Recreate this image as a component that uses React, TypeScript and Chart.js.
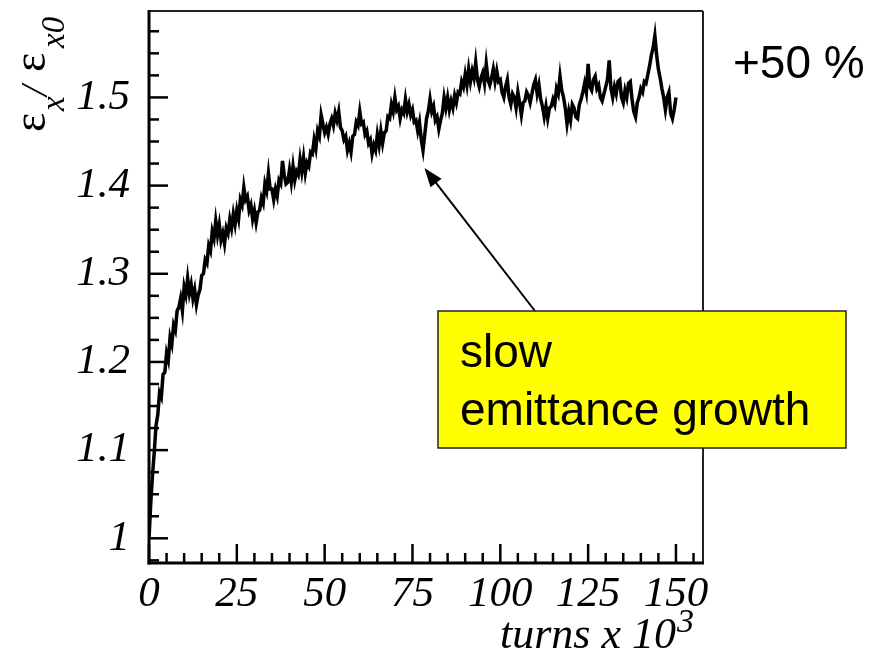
import React, { useEffect, useRef } from "react";
import { Chart, registerables } from "chart.js";

Chart.register(...registerables);

// emittance ratio eps_x / eps_x0, sampled every 0.5 x 10^3 turns (0 ... 150)
const emittanceRatio = [
  1.000, 1.040, 1.072, 1.098, 1.128, 1.140, 1.165, 1.160, 1.186, 1.188, 1.210, 1.202, 1.228, 1.220, 1.242, 1.236, 1.258, 1.262, 1.272, 1.258,
  1.285, 1.276, 1.295, 1.278, 1.288, 1.272, 1.282, 1.265, 1.276, 1.282, 1.298, 1.300, 1.316, 1.312, 1.332, 1.326, 1.348, 1.340, 1.360, 1.344,
  1.356, 1.338, 1.346, 1.334, 1.352, 1.346, 1.362, 1.352, 1.368, 1.356, 1.372, 1.362, 1.384, 1.378, 1.398, 1.384, 1.388, 1.372, 1.378, 1.362,
  1.372, 1.358, 1.370, 1.372, 1.386, 1.380, 1.402, 1.394, 1.414, 1.396, 1.396, 1.384, 1.396, 1.388, 1.406, 1.402, 1.428, 1.412, 1.402, 1.404,
  1.418, 1.404, 1.422, 1.406, 1.416, 1.412, 1.430, 1.416, 1.432, 1.414, 1.426, 1.422, 1.438, 1.436, 1.452, 1.442, 1.462, 1.456, 1.480, 1.470,
  1.460, 1.466, 1.458, 1.470, 1.476, 1.468, 1.482, 1.474, 1.484, 1.466, 1.462, 1.452, 1.456, 1.440, 1.448, 1.438, 1.456, 1.458, 1.472, 1.468,
  1.484, 1.470, 1.472, 1.458, 1.462, 1.448, 1.452, 1.436, 1.446, 1.440, 1.458, 1.446, 1.462, 1.448, 1.460, 1.462, 1.478, 1.476, 1.492, 1.484,
  1.500, 1.486, 1.490, 1.476, 1.486, 1.482, 1.498, 1.484, 1.492, 1.480, 1.486, 1.472, 1.474, 1.462, 1.472, 1.452, 1.440, 1.458, 1.476, 1.484,
  1.498, 1.484, 1.490, 1.474, 1.478, 1.464, 1.474, 1.482, 1.500, 1.488, 1.500, 1.486, 1.496, 1.488, 1.502, 1.494, 1.506, 1.504, 1.518, 1.512,
  1.526, 1.514, 1.532, 1.518, 1.530, 1.522, 1.540, 1.520, 1.512, 1.522, 1.528, 1.516, 1.538, 1.520, 1.514, 1.522, 1.532, 1.518, 1.530, 1.518,
  1.520, 1.506, 1.500, 1.512, 1.520, 1.500, 1.492, 1.504, 1.500, 1.488, 1.506, 1.494, 1.480, 1.494, 1.496, 1.506, 1.502, 1.494, 1.504, 1.514,
  1.520, 1.504, 1.514, 1.498, 1.490, 1.478, 1.490, 1.476, 1.488, 1.490, 1.498, 1.492, 1.510, 1.504, 1.524, 1.508, 1.500, 1.488, 1.470, 1.484,
  1.474, 1.492, 1.488, 1.478, 1.476, 1.492, 1.498, 1.506, 1.516, 1.506, 1.538, 1.512, 1.508, 1.520, 1.524, 1.510, 1.514, 1.500, 1.496, 1.504,
  1.512, 1.520, 1.542, 1.510, 1.500, 1.512, 1.504, 1.518, 1.520, 1.500, 1.494, 1.508, 1.500, 1.516, 1.518, 1.498, 1.484, 1.478, 1.494, 1.500,
  1.510, 1.506, 1.518, 1.516, 1.526, 1.536, 1.548, 1.556, 1.570, 1.548, 1.532, 1.522, 1.510, 1.500, 1.486, 1.500, 1.506, 1.482, 1.476, 1.486,
  1.500,
];
const TURN_STEP = 0.5; // x 10^3 turns between samples

const xTickValues = [0, 25, 50, 75, 100, 125, 150];
const xTickLabels = ["0", "25", "50", "75", "100", "125", "150"];
const yTickValues = [1, 1.1, 1.2, 1.3, 1.4, 1.5];
const yTickLabels = ["1", "1.1", "1.2", "1.3", "1.4", "1.5"];
const X_MINOR = 5;
const Y_MINOR = 0.025;
const X_MIN = 0;
const X_MAX = 157.7;
const Y_MIN = 0.972;
const Y_MAX = 1.598;

const xTitle = "turns x 10";
const xTitleSup = "3";
const percentNote = "+50 %";
const boxLines = ["slow", "emittance growth"];
const arrowTip = { x: 78.4, y: 1.42 };

const SERIF = '"Liberation Serif", "DejaVu Serif", serif';
const SANS = '"Liberation Sans", Arial, sans-serif';

const decorPlugin = {
  id: "decor",
  afterDraw(chart: any) {
    const ctx: CanvasRenderingContext2D = chart.ctx;
    const { left, right, top, bottom } = chart.chartArea;
    const xs = chart.scales.x;
    const ys = chart.scales.y;
    const line = (x1: number, y1: number, x2: number, y2: number) => {
      ctx.beginPath();
      ctx.moveTo(x1, y1);
      ctx.lineTo(x2, y2);
      ctx.stroke();
    };
    ctx.save();
    ctx.strokeStyle = "#000";
    ctx.fillStyle = "#000";
    // inward ticks
    ctx.lineWidth = 2.5;
    for (let k = 0; k * X_MINOR <= X_MAX; k++) {
      const v = k * X_MINOR;
      const px = xs.getPixelForValue(v);
      const len = v % 25 === 0 ? 19 : 10;
      line(px, bottom, px, bottom - len);
    }
    for (let k = Math.ceil(Y_MIN / Y_MINOR); k * Y_MINOR <= Y_MAX; k++) {
      const py = ys.getPixelForValue(k * Y_MINOR);
      const len = k % 4 === 0 ? 19 : 10;
      line(left, py, left + len, py);
    }
    // frame
    ctx.lineWidth = 2;
    ctx.strokeStyle = "#222";
    line(left, top, right, top);
    line(right, top, right, bottom);
    ctx.strokeStyle = "#000";
    ctx.lineWidth = 3;
    line(left, top - 1, left, bottom + 1.5);
    line(left - 1.5, bottom, right + 1, bottom);

    // y axis title: eps_x / eps_x0 (rotated)
    ctx.save();
    ctx.translate(45, 132);
    ctx.rotate(-Math.PI / 2);
    ctx.textAlign = "left";
    ctx.textBaseline = "alphabetic";
    ctx.font = `46px ${SERIF}`;
    ctx.fillText("ε", 0, 0);
    ctx.font = `italic 33px ${SERIF}`;
    ctx.fillText("x", 21, 19);
    ctx.font = `italic 38px ${SERIF}`;
    ctx.fillText("/", 36, 2);
    ctx.font = `46px ${SERIF}`;
    ctx.fillText("ε", 60, 0);
    ctx.font = `italic 33px ${SERIF}`;
    ctx.fillText("x0", 84, 19);
    ctx.restore();

    // x axis title
    ctx.textAlign = "left";
    ctx.textBaseline = "alphabetic";
    ctx.font = `italic 44px ${SERIF}`;
    ctx.fillText(xTitle, 500, 648);
    const w = ctx.measureText(xTitle).width;
    ctx.font = `italic 34px ${SERIF}`;
    ctx.fillText(xTitleSup, 500 + w + 1, 632);

    // +50 %
    ctx.font = `46px ${SANS}`;
    ctx.fillText(percentNote, 733, 78);

    // arrow
    const tipX = xs.getPixelForValue(arrowTip.x);
    const tipY = ys.getPixelForValue(arrowTip.y);
    const tailX = 535;
    const tailY = 311;
    const ang = Math.atan2(tipY - tailY, tipX - tailX);
    const headLen = 19;
    const headW = 7;
    ctx.lineWidth = 2;
    line(tailX, tailY, tipX - Math.cos(ang) * headLen * 0.8, tipY - Math.sin(ang) * headLen * 0.8);
    ctx.beginPath();
    ctx.moveTo(tipX, tipY);
    ctx.lineTo(
      tipX - Math.cos(ang) * headLen + Math.sin(ang) * headW,
      tipY - Math.sin(ang) * headLen - Math.cos(ang) * headW
    );
    ctx.lineTo(
      tipX - Math.cos(ang) * headLen - Math.sin(ang) * headW,
      tipY - Math.sin(ang) * headLen + Math.cos(ang) * headW
    );
    ctx.closePath();
    ctx.fill();

    // yellow box
    ctx.fillStyle = "#FFFF00";
    ctx.fillRect(438, 311, 408, 137);
    ctx.lineWidth = 1.5;
    ctx.strokeStyle = "#222";
    ctx.strokeRect(438, 311, 408, 137);
    ctx.fillStyle = "#000";
    ctx.font = `46px ${SANS}`;
    ctx.fillText(boxLines[0], 460, 367);
    ctx.fillText(boxLines[1], 460, 425);
    ctx.restore();
  },
};

export default function App() {
  const canvasRef = useRef<HTMLCanvasElement | null>(null);

  useEffect(() => {
    const canvas = canvasRef.current;
    if (!canvas) return;
    const points = emittanceRatio.map((v, i) => ({ x: i * TURN_STEP, y: v }));
    const chart = new Chart(canvas, {
      type: "line",
      data: {
        datasets: [
          {
            data: points,
            borderColor: "#000",
            borderWidth: 3.5,
            pointRadius: 0,
            tension: 0,
            fill: false,
          },
        ],
      },
      options: {
        animation: false,
        responsive: false,
        devicePixelRatio: 1,
        layout: { padding: { top: 11, right: 181, left: 0, bottom: 0 } },
        plugins: { legend: { display: false }, tooltip: { enabled: false } },
        scales: {
          x: {
            type: "linear",
            min: X_MIN,
            max: X_MAX,
            afterBuildTicks: (s: any) => {
              s.ticks = xTickValues.map((v) => ({ value: v }));
            },
            afterFit: (s: any) => {
              s.height = 92;
              s.paddingLeft = 0;
              s.paddingRight = 0;
              s.paddingTop = 0;
              s.paddingBottom = 0;
            },
            ticks: {
              autoSkip: false,
              maxRotation: 0,
              padding: 6,
              color: "#000",
              font: { family: SERIF, size: 43, style: "italic" },
              callback: (v: any) => {
                const i = xTickValues.indexOf(Number(v));
                return i >= 0 ? xTickLabels[i] : "";
              },
            },
            grid: { display: false, drawTicks: false },
            border: { display: false },
          },
          y: {
            type: "linear",
            min: Y_MIN,
            max: Y_MAX,
            afterBuildTicks: (s: any) => {
              s.ticks = yTickValues.map((v) => ({ value: v }));
            },
            afterFit: (s: any) => {
              s.width = 149;
              s.paddingLeft = 0;
              s.paddingRight = 0;
              s.paddingTop = 0;
              s.paddingBottom = 0;
            },
            ticks: {
              autoSkip: false,
              padding: 19,
              color: "#000",
              font: { family: SERIF, size: 43, style: "italic" },
              callback: (v: any) => {
                const i = yTickValues.findIndex((t) => Math.abs(t - Number(v)) < 1e-9);
                return i >= 0 ? yTickLabels[i] : "";
              },
            },
            grid: { display: false, drawTicks: false },
            border: { display: false },
          },
        },
      },
      plugins: [decorPlugin],
    });
    return () => chart.destroy();
  }, []);

  return (
    <div style={{ position: "absolute", left: 0, top: 0, width: 884, height: 655, background: "#fff" }}>
      <canvas ref={canvasRef} width={884} height={655} style={{ display: "block", width: 884, height: 655 }} />
    </div>
  );
}
